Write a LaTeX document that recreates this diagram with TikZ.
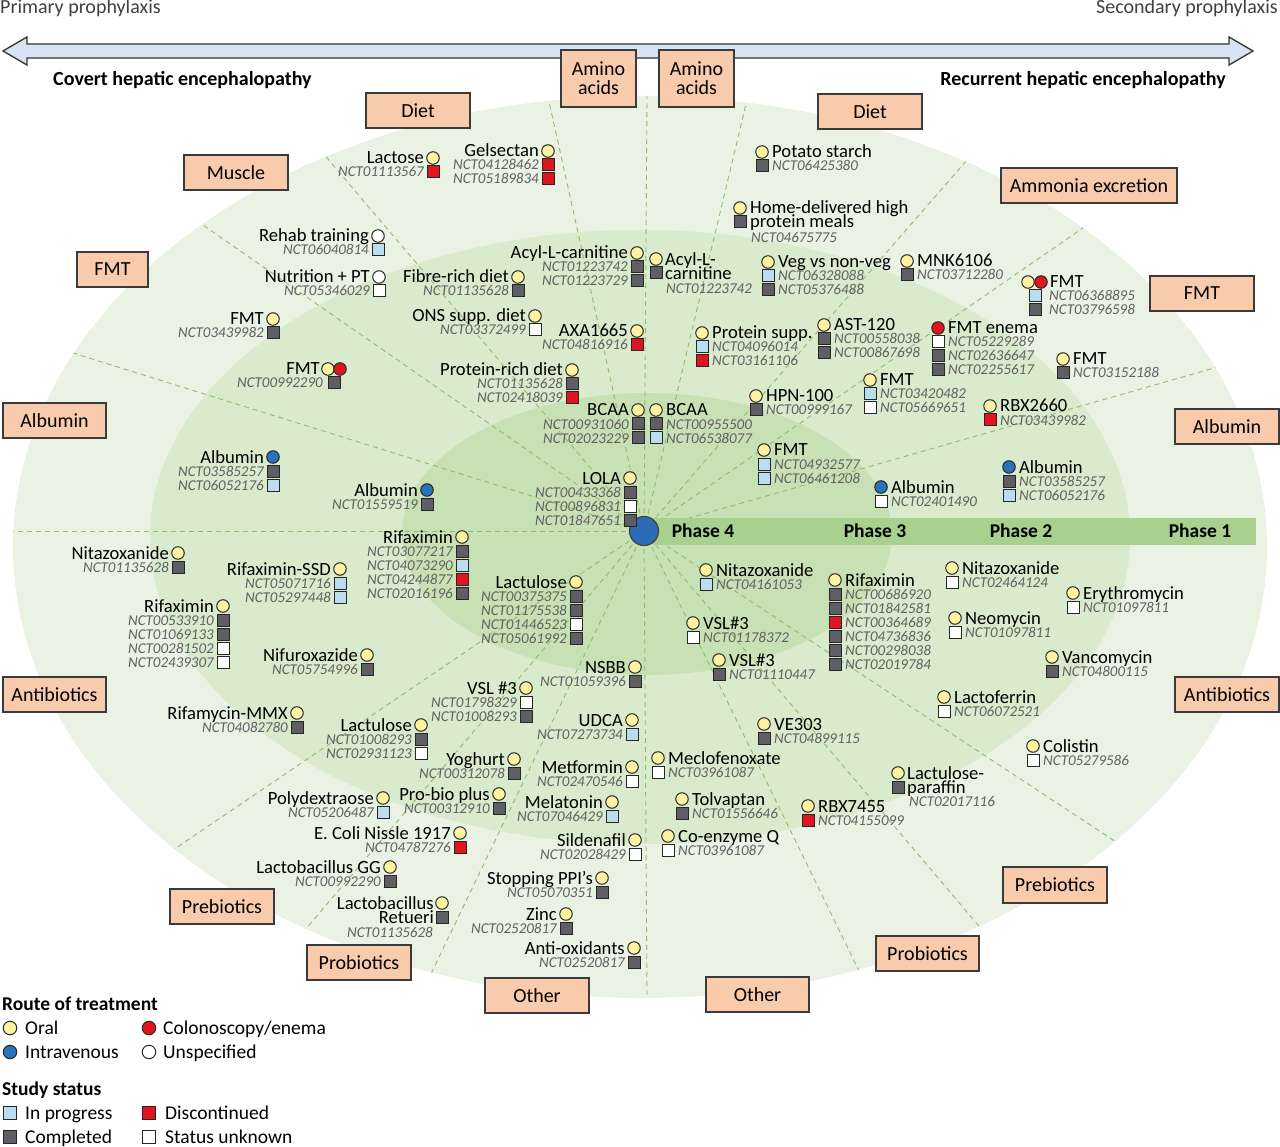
\documentclass[tikz,border=0pt]{standalone}
\usepackage{fontspec}
\setmainfont{Carlito}
\usetikzlibrary{calc}
\definecolor{ringA}{HTML}{EAF2E3}
\definecolor{ringB}{HTML}{D9EACD}
\definecolor{ringC}{HTML}{C8E1B4}
\definecolor{phasebar}{HTML}{A9D08E}
\definecolor{dashc}{HTML}{8CBE6C}
\definecolor{peach}{HTML}{F8CBAD}
\definecolor{boxline}{HTML}{3B3B3B}
\definecolor{arrowfill}{HTML}{DAE3F3}
\definecolor{ncttext}{HTML}{606060}
\definecolor{toptextc}{HTML}{404040}
\definecolor{hubblue}{HTML}{2B6CB5}
\definecolor{rto}{HTML}{FFF2A1}
\definecolor{rti}{HTML}{2A72BC}
\definecolor{rtc}{HTML}{E0161E}
\definecolor{rtu}{HTML}{FFFFFF}
\definecolor{stp}{HTML}{BCDCF0}
\definecolor{stc}{HTML}{5E5E64}
\definecolor{std}{HTML}{E0161E}
\definecolor{stu}{HTML}{FFFFFF}
\tikzset{
  rtmark/.style={circle, draw=black!85, line width=1pt, minimum size=12.5pt, inner sep=0pt},
  stmark/.style={rectangle, draw=black!85, line width=1pt, minimum size=12pt, inner sep=0pt},
  nm/.style={font=\fontsize{18.6}{14}\selectfont, inner sep=0pt},
  nct/.style={font=\fontsize{15}{14}\selectfont\itshape, text=ncttext, inner sep=0pt},
  catbox/.style={draw=boxline, fill=peach, line width=1.4pt, inner sep=0pt, font=\fontsize{20}{20}\selectfont, align=center},
  phasetxt/.style={font=\fontsize{19.5}{20}\selectfont\bfseries, inner sep=0pt},
  headtxt/.style={font=\fontsize{20}{20}\selectfont\bfseries, inner sep=0pt},
  toptxt/.style={font=\fontsize{20}{20}\selectfont, text=toptextc, inner sep=0pt},
  legtxt/.style={font=\fontsize{19.5}{20}\selectfont, inner sep=0pt},
  leghead/.style={font=\fontsize{19.5}{20}\selectfont\bfseries, inner sep=0pt},
  radial/.style={draw=dashc, line width=0.9pt, dash pattern=on 5pt off 4pt},
}
\newcommand{\entL}[5]{%
  \node[rtmark, fill=rt#1] at (#2,#3) {};
  \node[nm, anchor=base east] at (#2-9,#3+6) {#4};
  \foreach \s/\n [count=\i] in {#5}{%
    \node[stmark, fill=st\s] at (#2,#3+14*\i) {};
    \node[nct, anchor=base east] at (#2-9,#3+14*\i+5) {\n};
  }%
}
\newcommand{\entR}[5]{%
  \node[rtmark, fill=rt#1] at (#2,#3) {};
  \node[nm, anchor=base west] at (#2+10,#3+6) {#4};
  \foreach \s/\n [count=\i] in {#5}{%
    \node[stmark, fill=st\s] at (#2,#3+14*\i) {};
    \node[nct, anchor=base west] at (#2+10,#3+14*\i+5) {\n};
  }%
}
\newcommand{\cbox}[6]{%
  \node[catbox, minimum width={#4-#2}, minimum height={#5-#3}] (#1) at ({(#2+#4)/2},{(#3+#5)/2}) {#6};%
}
\begin{document}
\begin{tikzpicture}[x=1pt,y=-1pt]
\useasboundingbox (0,0) rectangle (1280,1147);
% rings
\fill[ringA] (640,547) ellipse [x radius=627, y radius=451];
\fill[ringB] (640,537) ellipse [x radius=490, y radius=307];
\fill[ringC] (647,534) ellipse [x radius=245, y radius=141];
\coordinate (hubc) at (644,531);
% radial dashed lines
\begin{scope}
\clip (640,547) ellipse [x radius=627, y radius=451];
\foreach \px/\py [count=\k] in {548/97,647/97,747/100,967/160,1080/230,1207/370,1110/838,978/925,862/977,647/998,428/980,305/930,173/850,15/531,73/353,200/223,322/152}{
  \coordinate (rend\k) at (\px,\py);
  \draw[radial] (hubc) -- ($(hubc)!1.1!(rend\k)$);
}
\end{scope}
% phase bar
\fill[phasebar] (653,518) rectangle (1256,545);
\node[phasetxt] (ph4) at (703,531) {Phase 4};
\node[phasetxt] (ph3) at (875,531) {Phase 3};
\node[phasetxt] (ph2) at (1021,531) {Phase 2};
\node[phasetxt] (ph1) at (1200,531) {Phase 1};
\node[circle, fill=hubblue, draw=black!75, line width=1.2pt, minimum size=29pt, inner sep=0pt] (hub) at (hubc) {};
% top arrow
\draw[fill=arrowfill, draw=black!80, line width=1.3pt, line join=miter] (3,51) -- (27,37) -- (27,44) -- (1229,44) -- (1229,37) -- (1253,51) -- (1229,65) -- (1229,58) -- (27,58) -- (27,65) -- cycle;
\node[toptxt, anchor=base west] (prim) at (0,14) {Primary prophylaxis};
\node[toptxt, anchor=base east] (sec) at (1278,14) {Secondary prophylaxis};
\node[headtxt, anchor=base west] (cov) at (53,86) {Covert hepatic encephalopathy};
\node[headtxt, anchor=base east] (rec) at (1226,86) {Recurrent hepatic encephalopathy};
% category boxes
\cbox{dietL}{366}{93}{470}{128}{Diet}
\cbox{muscle}{184}{155}{288}{190}{Muscle}
\cbox{fmtL}{77}{252}{148}{287}{FMT}
\cbox{albL}{3}{403}{106}{438}{Albumin}
\cbox{abxL}{3}{677}{106}{712}{Antibiotics}
\cbox{preL}{170}{889}{274}{924}{Prebiotics}
\cbox{proL}{307}{945}{411}{980}{Probiotics}
\cbox{othL}{485}{978}{589}{1013}{Other}
\cbox{amino1}{561}{50}{636}{107}{Amino\\[-1pt]acids}
\cbox{amino2}{659}{50}{734}{107}{Amino\\[-1pt]acids}
\cbox{dietR}{818}{94}{922}{129}{Diet}
\cbox{ammonia}{1001}{168}{1177}{203}{Ammonia excretion}
\cbox{fmtR}{1150}{276}{1254}{311}{FMT}
\cbox{albR}{1175}{409}{1279}{444}{Albumin}
\cbox{abxR}{1175}{677}{1279}{712}{Antibiotics}
\cbox{preR}{1003}{867}{1107}{903}{Prebiotics}
\cbox{proR}{876}{936}{979}{971}{Probiotics}
\cbox{othR}{706}{977}{809}{1012}{Other}
% ---------- upper left ----------
\entL{o}{433}{158}{Lactose}{d/NCT01113567}
\entL{o}{548}{151}{Gelsectan}{d/NCT04128462,d/NCT05189834}
\entL{u}{378}{236}{Rehab training}{p/NCT06040814}
\entL{u}{379}{277}{Nutrition + PT}{u/NCT05346029}
\entL{o}{518}{277}{Fibre-rich diet}{c/NCT01135628}
\entL{o}{637}{253}{Acyl-L-carnitine}{c/NCT01223742,c/NCT01223729}
\entL{o}{535}{316}{ONS supp. diet}{u/NCT03372499}
\entL{o}{273}{319}{FMT}{c/NCT03439982}
\entL{o}{637}{331}{AXA1665}{d/NCT04816916}
\entL{o}{572}{370}{Protein-rich diet}{c/NCT01135628,d/NCT02418039}
\entL{o}{638}{410}{BCAA}{c/NCT00931060,c/NCT02023229}
\entL{i}{273}{457}{Albumin}{c/NCT03585257,p/NCT06052176}
\entL{i}{427}{490}{Albumin}{c/NCT01559519}
\entL{o}{630}{478}{LOLA}{c/NCT00433368,u/NCT00896831,c/NCT01847651}
% FMT with two routes (left)
\node[rtmark, fill=rto] (fmtLa) at (328,369) {};
\node[rtmark, fill=rtc] (fmtLb) at (340,369) {};
\node[nm, anchor=base east] at (320,375) {FMT};
\node[stmark, fill=stc] at (334,383) {};
\node[nct, anchor=base east] at (323,388) {NCT00992290};
% ---------- upper right ----------
\entR{o}{656}{410}{BCAA}{c/NCT00955500,p/NCT06538077}
\entR{o}{762}{152}{Potato starch}{c/NCT06425380}
\entR{o}{768}{262}{Veg vs non-veg}{p/NCT06328088,c/NCT05376488}
\entR{o}{907}{261}{MNK6106}{c/NCT03712280}
\entR{o}{702}{333}{Protein supp.}{p/NCT04096014,d/NCT03161106}
\entR{o}{824}{325}{AST-120}{c/NCT00558038,c/NCT00867698}
\entR{c}{938}{328}{FMT enema}{u/NCT05229289,c/NCT02636647,c/NCT02255617}
\entR{o}{1063}{359}{FMT}{c/NCT03152188}
\entR{o}{870}{380}{FMT}{p/NCT03420482,u/NCT05669651}
\entR{o}{756}{396}{HPN-100}{c/NCT00999167}
\entR{o}{990}{406}{RBX2660}{d/NCT03439982}
\entR{o}{764}{450}{FMT}{p/NCT04932577,p/NCT06461208}
\entR{i}{881}{487}{Albumin}{u/NCT02401490}
\entR{i}{1009}{467}{Albumin}{c/NCT03585257,p/NCT06052176}
% Acyl-L-carnitine (two lines)
\node[rtmark, fill=rto] (acyl) at (656,259) {};
\node[stmark, fill=stc] at (656,273) {};
\node[nm, anchor=base west] at (665,266) {Acyl-L-};
\node[nm, anchor=base west] at (665,280) {carnitine};
\node[nct, anchor=base west] at (666,294) {NCT01223742};
% Home-delivered (two lines)
\node[rtmark, fill=rto] (home) at (740,208) {};
\node[stmark, fill=stc] at (740,222) {};
\node[nm, anchor=base west] at (750,214) {Home-delivered high};
\node[nm, anchor=base west] at (750,228) {protein meals};
\node[nct, anchor=base west] at (751,243) {NCT04675775};
% FMT with two routes (right)
\node[rtmark, fill=rto] (fmtRa) at (1028,282) {};
\node[rtmark, fill=rtc] (fmtRb) at (1041,282) {};
\node[nm, anchor=base west] at (1050,288) {FMT};
\node[stmark, fill=stp] at (1035,296) {};
\node[stmark, fill=stc] at (1035,310) {};
\node[nct, anchor=base west] at (1049,301) {NCT06368895};
\node[nct, anchor=base west] at (1049,315) {NCT03796598};
% ---------- lower left ----------
\entL{o}{462}{537}{Rifaximin}{c/NCT03077217,p/NCT04073290,d/NCT04244877,c/NCT02016196}
\entL{o}{178}{553}{Nitazoxanide}{c/NCT01135628}
\entL{o}{340}{569}{Rifaximin-SSD}{p/NCT05071716,p/NCT05297448}
\entL{o}{576}{582}{Lactulose}{c/NCT00375375,c/NCT01175538,u/NCT01446523,c/NCT05061992}
\entL{o}{223}{606}{Rifaximin}{c/NCT00533910,c/NCT01069133,u/NCT00281502,u/NCT02439307}
\entL{o}{367}{655}{Nifuroxazide}{c/NCT05754996}
\entL{o}{635}{667}{NSBB}{c/NCT01059396}
\entL{o}{526}{688}{VSL \#3}{u/NCT01798329,c/NCT01008293}
\entL{o}{297}{713}{Rifamycin-MMX}{c/NCT04082780}
\entL{o}{421}{725}{Lactulose}{c/NCT01008293,u/NCT02931123}
\entL{o}{632}{720}{UDCA}{p/NCT07273734}
\entL{o}{514}{759}{Yoghurt}{c/NCT00312078}
\entL{o}{632}{767}{Metformin}{u/NCT02470546}
\entL{o}{383}{798}{Polydextraose}{p/NCT05206487}
\entL{o}{499}{794}{Pro-bio plus}{c/NCT00312910}
\entL{o}{612}{802}{Melatonin}{p/NCT07046429}
\entL{o}{460}{833}{E. Coli Nissle 1917}{d/NCT04787276}
\entL{o}{635}{840}{Sildenafil}{u/NCT02028429}
\entL{o}{390}{867}{Lactobacillus GG}{c/NCT00992290}
\entL{o}{602}{878}{Stopping PPI’s}{c/NCT05070351}
\entL{o}{566}{914}{Zinc}{c/NCT02520817}
\entL{o}{634}{948}{Anti-oxidants}{c/NCT02520817}
% Lactobacillus Retueri (two lines)
\node[rtmark, fill=rto] (lacret) at (442,903) {};
\node[stmark, fill=stc] at (442,917) {};
\node[nm, anchor=base east] at (434,909) {Lactobacillus};
\node[nm, anchor=base east] at (434,923) {Retueri};
\node[nct, anchor=base east] at (433,937) {NCT01135628};
% ---------- lower right ----------
\entR{o}{706}{570}{Nitazoxanide}{p/NCT04161053}
\entR{o}{835}{580}{Rifaximin}{c/NCT00686920,c/NCT01842581,d/NCT00364689,c/NCT04736836,c/NCT00298038,c/NCT02019784}
\entR{o}{952}{568}{Nitazoxanide}{u/NCT02464124}
\entR{o}{1073}{593}{Erythromycin}{u/NCT01097811}
\entR{o}{955}{618}{Neomycin}{u/NCT01097811}
\entR{o}{693}{623}{VSL\#3}{u/NCT01178372}
\entR{o}{719}{660}{VSL\#3}{c/NCT01110447}
\entR{o}{1052}{657}{Vancomycin}{c/NCT04800115}
\entR{o}{944}{697}{Lactoferrin}{u/NCT06072521}
\entR{o}{764}{724}{VE303}{c/NCT04899115}
\entR{o}{1033}{746}{Colistin}{u/NCT05279586}
\entR{o}{658}{758}{Meclofenoxate}{u/NCT03961087}
\entR{o}{682}{799}{Tolvaptan}{c/NCT01556646}
\entR{o}{808}{806}{RBX7455}{d/NCT04155099}
\entR{o}{668}{836}{Co-enzyme Q}{u/NCT03961087}
% Lactulose-paraffin (two lines)
\node[rtmark, fill=rto] (lacpar) at (898,773) {};
\node[stmark, fill=stc] at (898,787) {};
\node[nm, anchor=base west] at (907,779) {Lactulose-};
\node[nm, anchor=base west] at (907,793) {paraffin};
\node[nct, anchor=base west] at (909,806) {NCT02017116};
% ---------- legend ----------
\node[leghead, anchor=base west] (lh1) at (2,1010) {Route of treatment};
\node[rtmark, minimum size=13.5pt, fill=rto] (lo) at (10,1028) {};
\node[legtxt, anchor=base west] at (25,1034) {Oral};
\node[rtmark, minimum size=13.5pt, fill=rtc] (lc) at (149,1028) {};
\node[legtxt, anchor=base west] at (163,1034) {Colonoscopy/enema};
\node[rtmark, minimum size=13.5pt, fill=rti] (li) at (10,1052) {};
\node[legtxt, anchor=base west] at (25,1058) {Intravenous};
\node[rtmark, minimum size=13.5pt, fill=rtu] (lu) at (149,1052) {};
\node[legtxt, anchor=base west] at (163,1058) {Unspecified};
\node[leghead, anchor=base west] (lh2) at (2,1095) {Study status};
\node[stmark, minimum size=12.5pt, fill=stp] (sp) at (10,1113) {};
\node[legtxt, anchor=base west] at (25,1119) {In progress};
\node[stmark, minimum size=12.5pt, fill=std] (sd) at (149,1113) {};
\node[legtxt, anchor=base west] at (165,1119) {Discontinued};
\node[stmark, minimum size=12.5pt, fill=stc] (sc) at (10,1137) {};
\node[legtxt, anchor=base west] at (25,1143) {Completed};
\node[stmark, minimum size=12.5pt, fill=stu] (su) at (149,1137) {};
\node[legtxt, anchor=base west] at (165,1143) {Status unknown};
\end{tikzpicture}
\end{document}
